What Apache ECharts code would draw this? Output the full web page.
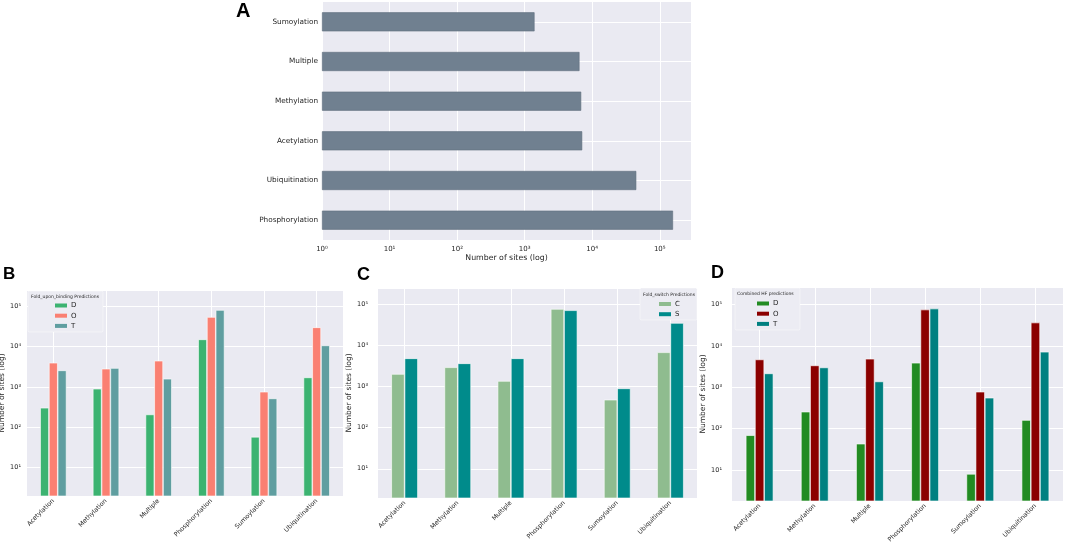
<!DOCTYPE html>
<html><head><meta charset="utf-8">
<script src="https://cdn.jsdelivr.net/npm/echarts@6/dist/echarts.min.js"></script>
<style>html,body{margin:0;padding:0;background:#fff}#c{width:1065px;height:543px}</style>
</head><body><div id="c"></div>
<script>
// Panel A (horizontal bars, top to bottom)
const ptmA = ['Sumoylation','Multiple','Methylation','Acetylation','Ubiquitination','Phosphorylation'];
const sitesA = [1400, 6480, 6870, 7110, 44900, 157000];
// Panels B, C, D categories
const ptms = ['Acetylation','Methylation','Multiple','Phosphorylation','Sumoylation','Ubiquitination'];
// B: Fold_upon_binding Predictions
const foldBindD = [304, 900, 208, 14960, 58, 1715];
const foldBindO = [3950, 2810, 4430, 53400, 758, 29700];
const foldBindT = [2560, 2920, 1585, 79600, 519, 10600];
// C: Fold_switch Predictions
const foldSwitchC = [1995, 2900, 1350, 75600, 474, 6700];
const foldSwitchS = [4790, 3620, 4790, 70200, 893, 34500];
// D: Combined HF predictions
const combinedD = [69, 256, 43, 3900, 8, 161];
const combinedO = [4700, 3370, 4880, 75700, 778, 36700];
const combinedT = [2160, 3010, 1380, 80000, 557, 7200];
// log tick labels
const logTicks = ['10\u2070','10\u00b9','10\u00b2','10\u00b3','10\u2074','10\u2075'];

const FONT = 'DejaVu Sans';
const TXT = '#262626';
const BG = '#EAEAF2';
const fmtLog = v => {
  const e = Math.log10(v), r = Math.round(e);
  return (Math.abs(e - r) < 1e-6 && r >= 0 && r < logTicks.length) ? logTicks[r] : '';
};
const gridLine = {show: true, lineStyle: {color: '#ffffff', width: 1}};
const catGridLine = {show: true, alignWithLabel: true, lineStyle: {color: '#ffffff', width: 1}};

function logAxis(gi, min, max, margin, nameGap, extra) {
  return Object.assign({
    type: 'log', logBase: 10, gridIndex: gi, min: min, max: max,
    axisLine: {show: false}, axisTick: {show: false},
    splitLine: gridLine,
    axisLabel: {formatter: fmtLog, fontSize: 6.5, color: TXT, fontFamily: FONT, margin: margin},
    name: 'Number of sites (log)', nameLocation: 'middle', nameGap: nameGap,
    nameTextStyle: {fontSize: 7.5, color: TXT, fontFamily: FONT}
  }, extra || {});
}
function catXAxis(gi) {
  return {
    type: 'category', gridIndex: gi, data: ptms,
    axisLine: {show: false}, axisTick: {show: false, alignWithLabel: true},
    splitLine: catGridLine,
    axisLabel: {rotate: 45, fontSize: 6.3, color: TXT, fontFamily: FONT, margin: 4, interval: 0}
  };
}
const barBorder = {borderColor: '#ffffff', borderWidth: 0.6};
function bar(name, xi, data, color) {
  return {name: name, type: 'bar', xAxisIndex: xi, yAxisIndex: xi, data: data,
    barCategoryGap: '50%', barGap: '0%', itemStyle: Object.assign({color: color}, barBorder)};
}
function legend(names, left, top) {
  return {
    data: names, orient: 'vertical', left: left, top: top, padding: 0,
    icon: 'rect', itemWidth: 12, itemHeight: 4, itemGap: 2.2,
    itemStyle: {borderWidth: 0},
    formatter: n => n.slice(1),
    textStyle: {fontSize: 7, lineHeight: 8, color: TXT, fontFamily: FONT, padding: [0,0,0,-1]},
    selectedMode: false
  };
}
function letter(t, x, y, size) {
  return {type: 'text', left: x, top: y, z: 10,
    style: {text: t, fontSize: size, fontWeight: 'bold', fontFamily: 'Liberation Sans', fill: '#000'}};
}
function legTitle(t, x, y) {
  return {type: 'text', x: x, y: y, z: 10,
    style: {text: t, fontSize: 4.5, fontFamily: FONT, fill: TXT, verticalAlign: 'middle', align: 'left'}};
}
function legBox(x, y, w, h) {
  return {type: 'rect', shape: {x: x, y: y, width: w, height: h, r: 1.5}, z: 1,
    style: {fill: '#ECECF3', stroke: 'rgba(255,255,255,0.7)', lineWidth: 0.6}};
}

const chart = echarts.init(document.getElementById('c'), null, {renderer: 'canvas'});
chart.setOption({
  animation: false,
  backgroundColor: '#ffffff',
  textStyle: {fontFamily: FONT},
  grid: [
    {left: 322, top: 2, width: 369, height: 238},
    {left: 27, top: 290, width: 316, height: 206},
    {left: 378, top: 288, width: 319, height: 210},
    {left: 732, top: 287, width: 331, height: 214}
  ].map(g => Object.assign(g, {show: true, backgroundColor: BG, borderWidth: 0, containLabel: false, outerBoundsMode: 'none'})),
  xAxis: [
    {type: 'log', logBase: 10, gridIndex: 0, min: 1, max: 290000,
      axisLine: {show: false}, axisTick: {show: false}, splitLine: gridLine,
      axisLabel: {formatter: fmtLog, fontSize: 7, color: TXT, fontFamily: FONT, margin: 6},
      name: 'Number of sites (log)', nameLocation: 'middle', nameGap: 14,
      nameTextStyle: {fontSize: 7.8, color: TXT, fontFamily: FONT}},
    catXAxis(1), catXAxis(2), catXAxis(3)
  ],
  yAxis: [
    {type: 'category', gridIndex: 0, data: ptmA, inverse: true,
      axisLine: {show: false}, axisTick: {show: false, alignWithLabel: true},
      splitLine: catGridLine,
      axisLabel: {fontSize: 7.3, color: TXT, fontFamily: FONT, margin: 4}},
    logAxis(1, 2.0, 249000, 6, 17),
    logAxis(2, 1.95, 244000, 10, 16),
    logAxis(3, 1.77, 266000, 10, 16)
  ],
  legend: [
    legend(['bD','bO','bT'], 55, 301.5),
    legend(['cC','cS'], 659, 300),
    legend(['dD','dO','dT'], 757, 299.5)
  ],
  series: [
    {name: 'aSites', type: 'bar', xAxisIndex: 0, yAxisIndex: 0, data: sitesA, barWidth: '48%',
      itemStyle: {color: '#708090', borderColor: '#5f6e7d', borderWidth: 0.6}},
    bar('bD', 1, foldBindD, '#3CB371'),
    bar('bO', 1, foldBindO, '#FA8072'),
    bar('bT', 1, foldBindT, '#5F9EA0'),
    bar('cC', 2, foldSwitchC, '#8FBC8F'),
    bar('cS', 2, foldSwitchS, '#008B8B'),
    bar('dD', 3, combinedD, '#228B22'),
    bar('dO', 3, combinedO, '#8B0000'),
    bar('dT', 3, combinedT, '#008080')
  ],
  graphic: [
    letter('A', 236, 1, 20),
    letter('B', 3, 266, 17),
    letter('C', 357, 266, 18),
    letter('D', 711, 264, 18),
    legBox(28, 291, 75, 41),
    legBox(640, 288, 57, 32),
    legBox(735, 288, 65, 42),
    legTitle('Fold_upon_binding Predictions', 31, 297),
    legTitle('Fold_switch Predictions', 643, 295),
    legTitle('Combined HF predictions', 737, 293.5)
  ]
});
</script></body></html>
